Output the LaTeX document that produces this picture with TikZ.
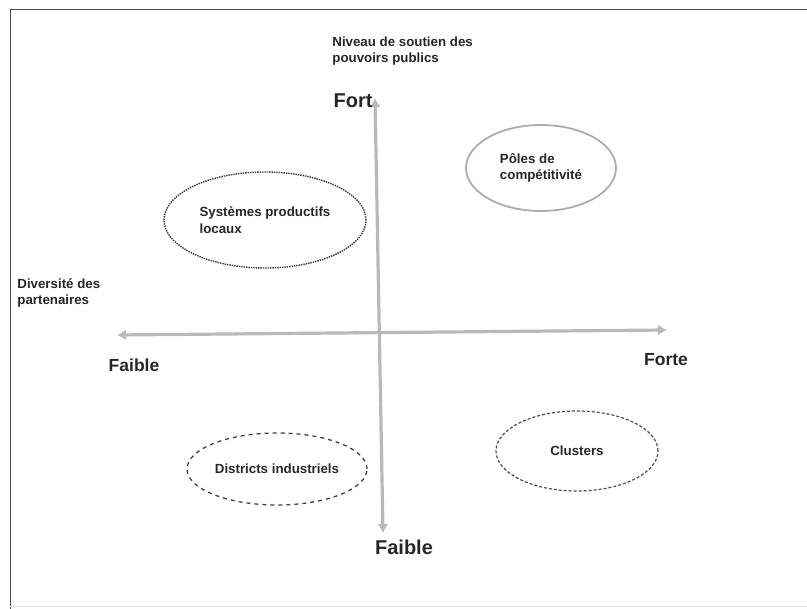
\documentclass[tikz,border=0pt]{standalone}
\usepackage{fontspec}
\setmainfont{Liberation Sans}
\usetikzlibrary{arrows.meta,shapes.geometric}

\begin{document}
\begin{tikzpicture}[x=1pt,y=-1pt,thick,
	zone/.style={ellipse,draw,inner sep=0pt,align=left,text=black!85,font=\bfseries\fontsize{13.3}{16.5}\selectfont},
	axis label/.style={anchor=base,inner sep=0pt,text=black!85,font=\bfseries\fontsize{20}{24}\selectfont},
	title label/.style={anchor=north west,inner sep=0pt,align=left,text=black!85,font=\bfseries\fontsize{13.3}{16.5}\selectfont},
	axis/.style={{Latex[length=9pt,width=11pt]}-{Latex[length=9pt,width=11pt]},line width=3.2pt,draw=gray!55}]
	\useasboundingbox (0,0) rectangle (807,609);
	% frame
	\draw[black!70,line width=1pt] (807,9.5) -- (10,9.5) -- (10,609);
	\draw[black!12] (10,606) -- (807,606);
	% axes
	\coordinate (top) at (375,98);
	\coordinate (bottom) at (383,533);
	\coordinate (left) at (117,335);
	\coordinate (right) at (667,330);
	\draw[axis] (bottom) -- (top);
	\draw[axis] (left) -- (right);
	% labels
	\node[title label] (soutien) at (332,36) {Niveau de soutien des\\pouvoirs publics};
	\node[title label] (diversite) at (17,278) {Diversité des\\partenaires};
	\node[axis label] (fort) at (353,108) {Fort};
	\node[axis label] (faible v) at (404,555) {Faible};
	\node[axis label,font=\bfseries\fontsize{17.5}{21}\selectfont] (faible h) at (134,372) {Faible};
	\node[axis label,font=\bfseries\fontsize{17.5}{21}\selectfont] (forte) at (666,366) {Forte};
	% zones
	\node[zone,densely dotted,line width=1.4pt,draw=black!80,minimum width=202pt,minimum height=96pt] (spl) at (265,220) {Systèmes productifs\\locaux};
	\node[zone,draw=gray!65,line width=1.8pt,minimum width=150pt,minimum height=86pt] (poles) at (541,168) {Pôles de\\compétitivité};
	\node[zone,dash pattern=on 4pt off 4pt,line width=1.3pt,draw=black!75,minimum width=180pt,minimum height=72pt] (districts) at (277,469) {Districts industriels};
	\node[zone,dash pattern=on 3pt off 2pt,line width=1.2pt,draw=black!70,minimum width=162pt,minimum height=80pt] (clusters) at (577,451) {Clusters};
\end{tikzpicture}
\end{document}
